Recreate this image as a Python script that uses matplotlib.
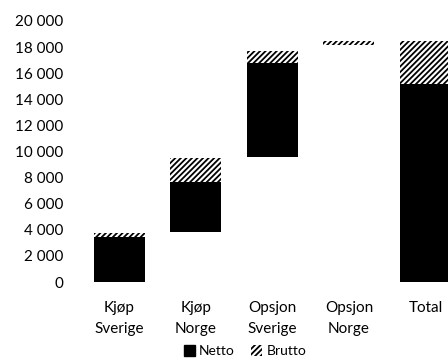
import matplotlib
matplotlib.use("Agg")
import matplotlib.pyplot as plt
from matplotlib.patches import Patch
from matplotlib.ticker import FuncFormatter

plt.rcParams['font.family'] = ['Lato', 'DejaVu Sans']
plt.rcParams['hatch.linewidth'] = 1.3

kategorier = ["Kjøp\nSverige", "Kjøp\nNorge", "Opsjon\nSverige", "Opsjon\nNorge", "Total"]
base = [0, 3800, 9550, 18150, 0]
netto = [3450, 3900, 7250, 0, 15200]
brutto = [300, 1800, 900, 300, 3300]

fig = plt.figure(figsize=(4.48, 3.62), dpi=100)
ax = fig.add_axes([81 / 448, 80 / 362, 1 - 81 / 448, 261 / 362])

x = list(range(len(kategorier)))
w = 0.667
ax.bar(x, netto, w, bottom=base, color='black', linewidth=0)
topp = [b + n for b, n in zip(base, netto)]
ax.bar(x, brutto, w, bottom=topp, color='white', edgecolor='black',
       hatch='//////', linewidth=0)

ax.set_ylim(0, 20000)
ax.set_xlim(-0.5, 4 + 22.5 / 76.5)
ax.set_yticks(range(0, 20001, 2000))
ax.yaxis.set_major_formatter(FuncFormatter(lambda v, p: f"{int(v):,}".replace(",", " ")))
ax.set_xticks(x)
ax.set_xticklabels(kategorier, linespacing=1.6)
ax.tick_params(axis='y', length=0, pad=13, labelsize=11)
ax.tick_params(axis='x', length=0, pad=14, labelsize=11)
for s in ax.spines.values():
    s.set_visible(False)

handles = [Patch(facecolor='black', edgecolor='black', label='Netto'),
           Patch(facecolor='white', edgecolor='black', hatch='//////', linewidth=0, label='Brutto')]
fig.legend(handles=handles, loc='lower center', bbox_to_anchor=(245 / 448, -0.022), ncol=2,
           frameon=False, fontsize=10, handlelength=0.8, handleheight=0.8,
           handletextpad=0.3, columnspacing=1.2)

fig.savefig("out.png", dpi=100)
